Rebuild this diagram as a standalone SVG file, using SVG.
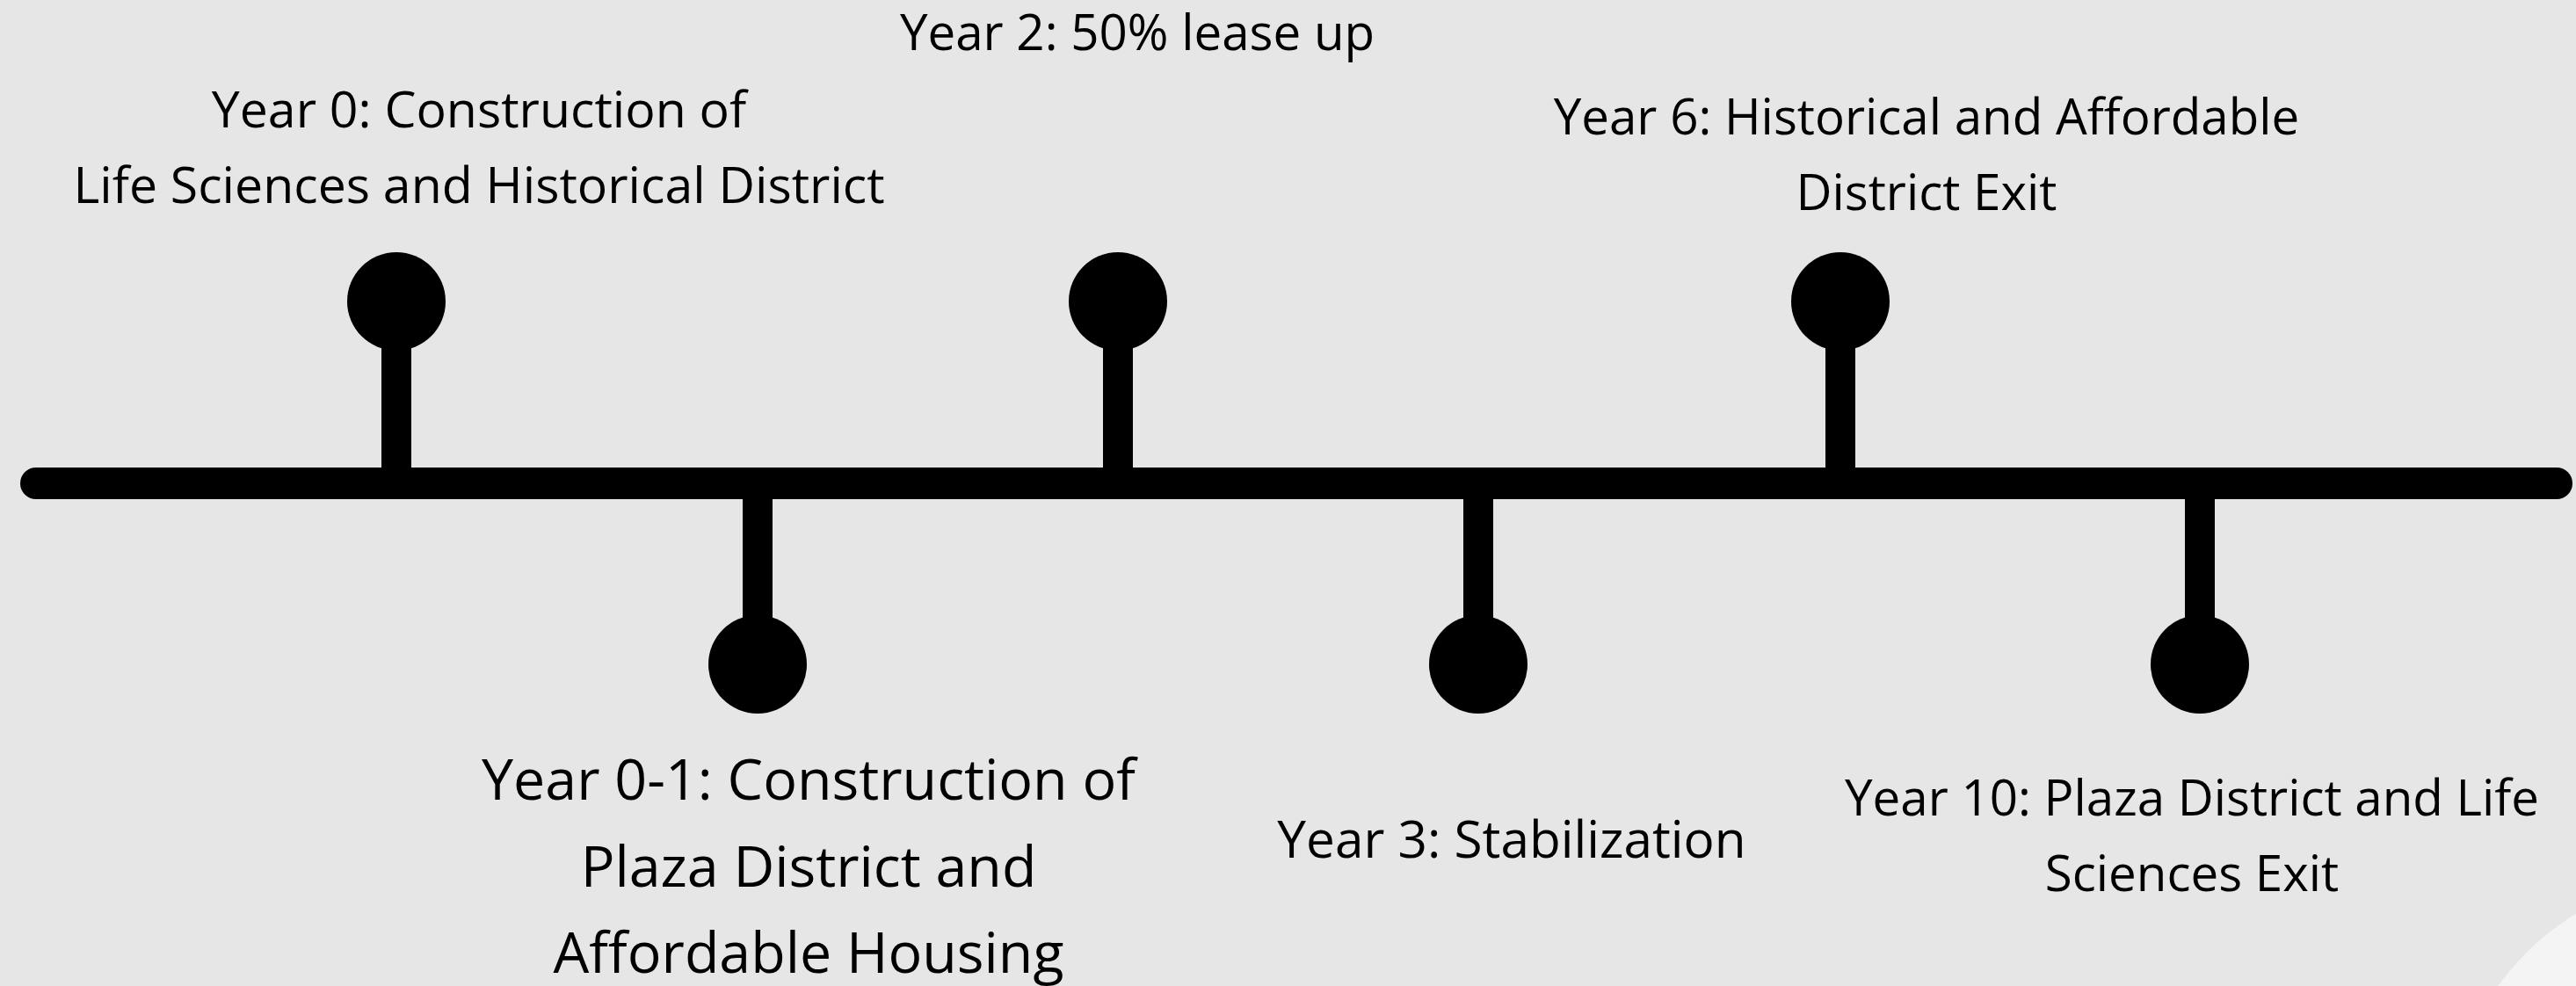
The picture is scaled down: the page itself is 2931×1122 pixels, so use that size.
<svg xmlns="http://www.w3.org/2000/svg" width="2931" height="1122" viewBox="0 0 2931 1122">
<style>
.lbl{font-family:"Open Sans","Noto Sans","Liberation Sans",sans-serif;font-size:56.5px;fill:#000;text-anchor:middle}
.big{font-size:64.5px}
.mid{font-size:58.5px}
.y0{font-size:57.2px}
.dot{fill:#000}
.stem{fill:#000}
</style>
<rect x="0" y="0" width="2931" height="1122" fill="#e6e6e6"/>
<circle cx="3090" cy="1300" r="305" fill="#f4f4f4"/>
<g id="connectors">
<rect id="timeline" x="23" y="532" width="2904" height="36" rx="18" ry="18" fill="#000"/>
<rect class="stem" x="434" y="390" width="34" height="150"/>
<rect class="stem" x="1255" y="390" width="34" height="150"/>
<rect class="stem" x="2077" y="390" width="34" height="150"/>
<rect class="stem" x="845" y="560" width="34" height="150"/>
<rect class="stem" x="1665" y="560" width="34" height="150"/>
<rect class="stem" x="2486" y="560" width="34" height="150"/>
</g>
<g id="node-year0">
<circle class="dot" cx="451" cy="343" r="56"/>
<text class="lbl y0" x="545" y="145">Year 0: Construction of</text>
<text class="lbl y0" x="545" y="231">Life Sciences and Historical District</text>
</g>
<g id="node-year0-1">
<circle class="dot" cx="862" cy="756" r="56"/>
<text class="lbl big" x="920" y="910">Year 0-1: Construction of</text>
<text class="lbl big" x="920" y="1009">Plaza District and</text>
<text class="lbl big" x="920" y="1107">Affordable Housing</text>
</g>
<g id="node-year2">
<circle class="dot" cx="1272" cy="343" r="56"/>
<text class="lbl" x="1294" y="57">Year 2: 50% lease up</text>
</g>
<g id="node-year3">
<circle class="dot" cx="1682" cy="756" r="56"/>
<text class="lbl mid" x="1720" y="976">Year 3: Stabilization</text>
</g>
<g id="node-year6">
<circle class="dot" cx="2094" cy="343" r="56"/>
<text class="lbl" x="2192" y="153">Year 6: Historical and Affordable</text>
<text class="lbl" x="2192" y="239">District Exit</text>
</g>
<g id="node-year10">
<circle class="dot" cx="2503" cy="756" r="56"/>
<text class="lbl" x="2494" y="928">Year 10: Plaza District and Life</text>
<text class="lbl" x="2494" y="1014">Sciences Exit</text>
</g>
</svg>
